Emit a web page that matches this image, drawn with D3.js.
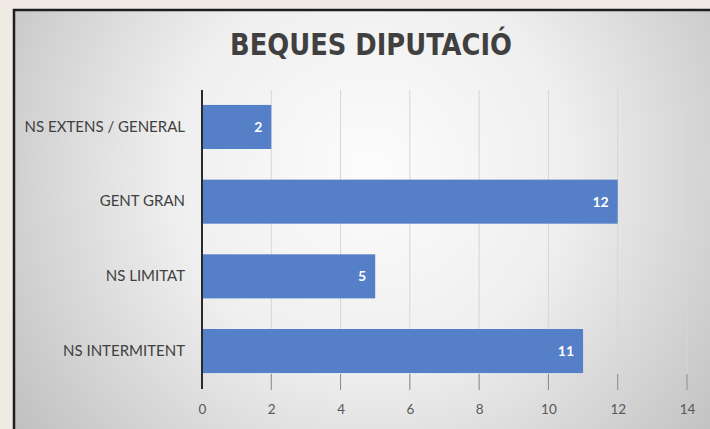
<!DOCTYPE html>
<html><head><meta charset="utf-8">
<script src="https://cdn.jsdelivr.net/npm/d3@7"></script>
<style>
html,body{margin:0;padding:0;background:#efebe4;}
svg{display:block;}
</style></head>
<body>
<script>
const categories = ["NS EXTENS / GENERAL", "GENT GRAN", "NS LIMITAT", "NS INTERMITENT"];
const values = [2, 12, 5, 11];
const xTicks = [0, 2, 4, 6, 8, 10, 12, 14];
const title = "BEQUES DIPUTACIÓ";

const W = 710, H = 429;
const font = "Lato, 'Open Sans', sans-serif";
const titleFont = "'DejaVu Sans Condensed', 'DejaVu Sans', sans-serif";
const svg = d3.select("body").append("svg").attr("width", W).attr("height", H);

const defs = svg.append("defs");
const rg = defs.append("radialGradient").attr("id", "bg")
  .attr("gradientUnits", "userSpaceOnUse")
  .attr("cx", 370).attr("cy", 170).attr("r", 440);
rg.append("stop").attr("offset", "0%").attr("stop-color", "#fcfcfc");
rg.append("stop").attr("offset", "45%").attr("stop-color", "#efefef");
rg.append("stop").attr("offset", "100%").attr("stop-color", "#c0c0c0");

svg.append("rect").attr("x", 0).attr("y", 0).attr("width", W).attr("height", H).attr("fill", "#efebe4");
svg.append("rect").attr("x", 14).attr("y", 10).attr("width", W + 20).attr("height", H + 20)
  .attr("fill", "url(#bg)").attr("stroke", "#1e1e1e").attr("stroke-width", 2.5);

const x = d3.scaleLinear().domain([0, 14]).range([202, 687]);
const y = d3.scaleBand().domain(categories).range([90, 388]).paddingInner(0.41).paddingOuter(0.2);

// gridlines
svg.append("g").selectAll("line").data(xTicks.filter(d => d > 0)).join("line")
  .attr("x1", d => x(d)).attr("x2", d => x(d))
  .attr("y1", 90).attr("y2", 388)
  .attr("stroke", "#d6d6d6").attr("stroke-width", 1);

// bars
svg.append("g").selectAll("rect").data(values).join("rect")
  .attr("x", x(0)).attr("y", (d, i) => y(categories[i]))
  .attr("width", d => x(d) - x(0)).attr("height", y.bandwidth())
  .attr("fill", "#5580c8");

// ticks below bars
svg.append("g").selectAll("line").data(xTicks.filter(d => d > 0)).join("line")
  .attr("x1", d => x(d)).attr("x2", d => x(d))
  .attr("y1", 374).attr("y2", 390)
  .attr("stroke", "#8a8a8a").attr("stroke-width", 1);

// x axis labels
const xAxis = d3.axisBottom(x).tickValues(xTicks).tickSize(0).tickPadding(0);
const gx = svg.append("g").attr("transform", "translate(0,404)").call(xAxis);
gx.select(".domain").remove();
gx.selectAll("text").attr("font-family", font).attr("font-size", 13.5).attr("fill", "#595959").attr("dy", "0.72em");

// y axis line
svg.append("line").attr("x1", x(0)).attr("x2", x(0)).attr("y1", 90).attr("y2", 389)
  .attr("stroke", "#2a2a2a").attr("stroke-width", 2);

// category labels
const yAxis = d3.axisLeft(y).tickSize(0).tickPadding(17);
const gy = svg.append("g").attr("transform", `translate(${x(0)},0)`).call(yAxis);
gy.select(".domain").remove();
gy.selectAll("text").attr("font-family", font).attr("font-size", 15).attr("fill", "#404040");

// value labels
svg.append("g").selectAll("text").data(values).join("text")
  .attr("x", d => x(d) - 9).attr("y", (d, i) => y(categories[i]) + y.bandwidth() / 2)
  .attr("dy", "0.36em").attr("text-anchor", "end")
  .attr("font-family", font).attr("font-weight", "bold").attr("font-size", 14).attr("fill", "#ffffff")
  .text(d => d);

// title
svg.append("text").attr("x", 230).attr("y", 55)
  .attr("font-family", titleFont).attr("font-weight", "bold").attr("font-size", 31).attr("fill", "#404040")
  .attr("textLength", 282).attr("lengthAdjust", "spacingAndGlyphs")
  .text(title);
</script>
</body></html>
